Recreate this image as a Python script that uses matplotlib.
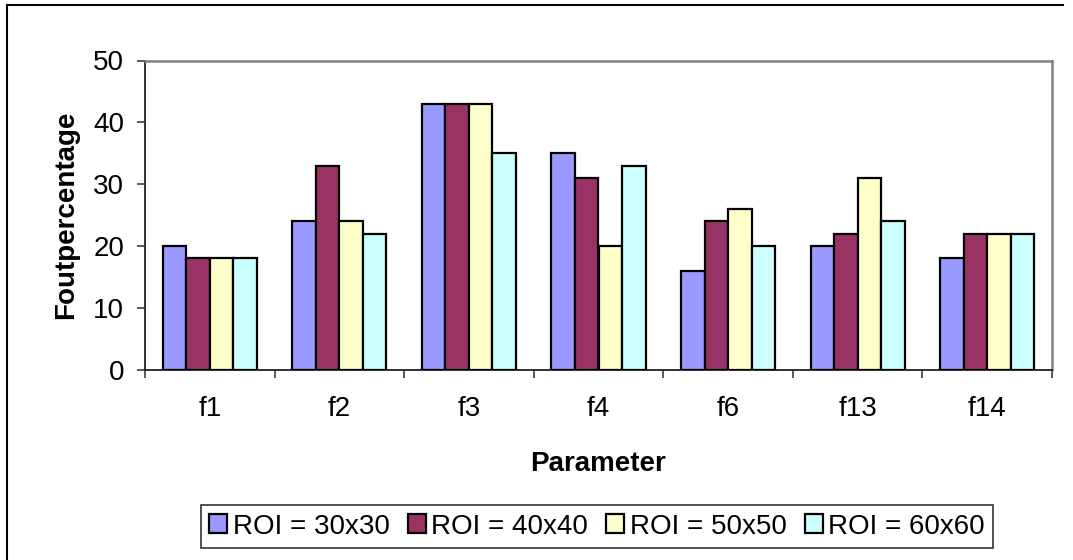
import matplotlib
matplotlib.use("Agg")
import matplotlib.pyplot as plt
from matplotlib.lines import Line2D
import numpy as np

plt.rcParams['font.family'] = ['Liberation Sans', 'DejaVu Sans']

categories = ["f1", "f2", "f3", "f4", "f6", "f13", "f14"]
series_names = ["ROI = 30x30", "ROI = 40x40", "ROI = 50x50", "ROI = 60x60"]
roi_30 = [20, 24, 43, 35, 16, 20, 18]
roi_40 = [18, 33, 43, 31, 24, 22, 22]
roi_50 = [18, 24, 43, 20, 26, 31, 22]
roi_60 = [18, 22, 35, 33, 20, 24, 22]
series = [roi_30, roi_40, roi_50, roi_60]
colors = ["#9999FF", "#993366", "#FFFFCC", "#CCFFFF"]
y_ticks = [0, 10, 20, 30, 40, 50]

fig = plt.figure(figsize=(10.73, 5.6), dpi=100)
ax = fig.add_axes([145 / 1073, 1 - 369.5 / 560, (1052 - 145) / 1073, (369.5 - 60.5) / 560])

x = np.arange(len(categories))
bw = 0.1815
for i, (vals, col, name) in enumerate(zip(series, colors, series_names)):
    ax.bar(x + (i - 1.5) * bw, vals, width=bw, color=col, edgecolor="black",
           linewidth=1.6, label=name, zorder=3)

ax.set_xlim(-0.5, len(categories) - 0.5)
ax.set_ylim(0, 50)
ax.set_yticks(y_ticks)
ax.set_yticklabels([str(t) for t in y_ticks], fontsize=20)
ax.set_xticks(np.arange(len(categories) + 1) - 0.5)
ax.set_xticklabels([])
ax.set_xticks(x, minor=True)
ax.set_xticklabels(categories, minor=True, fontsize=20)
ax.tick_params(axis="x", which="major", direction="out", length=6, width=1.2, color="#404040")
ax.tick_params(axis="x", which="minor", length=0, pad=19)
ax.tick_params(axis="y", direction="out", length=6, width=1.2, color="#404040", pad=9)

for side in ("top", "right"):
    ax.spines[side].set_color("#808080")
    ax.spines[side].set_linewidth(1.8)
for side in ("left", "bottom"):
    ax.spines[side].set_color("#202020")
    ax.spines[side].set_linewidth(1.3)

ax.set_ylabel("Foutpercentage", fontsize=20, fontweight="bold", labelpad=10)
ax.set_xlabel("Parameter", fontsize=20, fontweight="bold", labelpad=21)

leg = fig.legend(loc="center", bbox_to_anchor=(597 / 1073, 1 - 526.5 / 560), ncol=4,
                 fontsize=20, frameon=True, fancybox=False, edgecolor="black",
                 handlelength=0.65, handleheight=0.65, handletextpad=0.2,
                 columnspacing=0.65, borderpad=0.3, borderaxespad=0)
leg.get_frame().set_linewidth(1.2)

# outer chart-area border (left and top edges)
fig.add_artist(Line2D([7 / 1073, 7 / 1073], [0, 1 - 5 / 560], color="black", lw=1.5,
                      transform=fig.transFigure))
fig.add_artist(Line2D([7 / 1073, 1063 / 1073], [1 - 5 / 560, 1 - 5 / 560], color="black", lw=1.5,
                      transform=fig.transFigure))

fig.savefig("out.png", dpi=100)
